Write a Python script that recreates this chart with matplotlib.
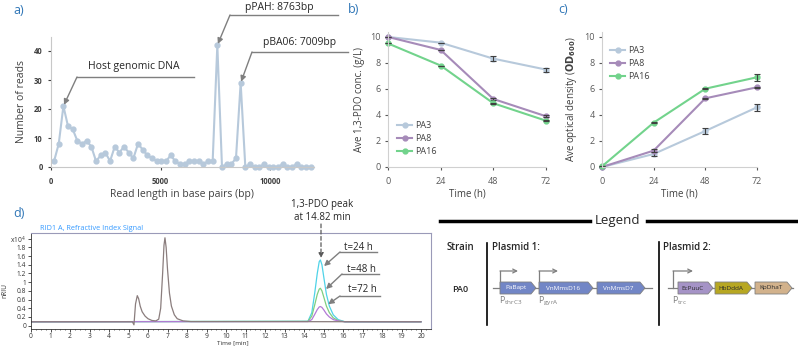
import numpy as np
import matplotlib
matplotlib.use("Agg")
import matplotlib.pyplot as plt
from matplotlib.patches import Polygon

plt.rcParams['font.family'] = ['Open Sans', 'DejaVu Sans']
plt.rcParams['mathtext.default'] = 'regular'

# a) nanopore read lengths (bins of ~213 bp)
bin_start = 140
bin_width = 213
reads = [2, 8, 21, 14, 13, 9, 8, 9, 7, 2, 4, 5, 2, 7, 5, 7, 5, 3, 8, 6,
         4, 3, 2, 2, 2, 4, 2, 1, 1, 2, 2, 2, 1, 2, 2, 42, 0, 1, 1, 3,
         29, 0, 1, 0, 0, 1, 0, 0, 0, 1, 0, 0, 1, 0, 0, 0]
read_len = bin_start + bin_width * np.arange(len(reads))

# b) 1,3-PDO concentration and c) OD600
hours = [0, 24, 48, 72]
strains = ["PA3", "PA8", "PA16"]
colors = ["#b7c9db", "#a68bb9", "#72d38c"]
pdo_pa3 = [10.0, 9.56, 8.33, 7.49]
pdo_pa8 = [10.0, 9.0, 5.23, 3.9]
pdo_pa16 = [9.5, 7.8, 4.9, 3.56]
pdo_err_pa3 = [0, 0, 0.2, 0.15]
pdo_err_pa8 = [0, 0, 0.08, 0.08]
pdo_err_pa16 = [0, 0, 0.05, 0.05]
od_pa3 = [0.0, 1.0, 2.77, 4.59]
od_pa8 = [0.0, 1.26, 5.28, 6.13]
od_pa16 = [0.05, 3.41, 6.02, 6.9]
od_err_pa3 = [0, 0.12, 0.25, 0.25]
od_err_pa8 = [0, 0.1, 0.05, 0.05]
od_err_pa16 = [0, 0.05, 0.05, 0.25]

# d) HPLC refractive index signal (x10^4 nRIU)
rt_main = [0, 5.2, 5.28, 5.36, 5.45, 5.52, 5.6, 5.7, 5.85, 6.0, 6.2, 6.4, 6.55, 6.65,
           6.75, 6.82, 6.87, 6.93, 7.0, 7.1, 7.2, 7.35, 7.5, 7.8, 8.2, 20]
sig_main = [0.09, 0.09, 0.02, 0.5, 0.69, 0.62, 0.45, 0.32, 0.22, 0.16, 0.12, 0.11, 0.15, 0.4,
            1.2, 1.85, 2.02, 1.8, 1.3, 0.75, 0.45, 0.25, 0.16, 0.11, 0.095, 0.09]
rt_pdo = [0, 14.2, 14.4, 14.55, 14.68, 14.78, 14.84, 14.92, 15.02, 15.15, 15.3, 15.5, 15.75, 16.1, 20]
sig_24h = [0.09, 0.1, 0.3, 0.75, 1.2, 1.47, 1.51, 1.4, 1.1, 0.72, 0.45, 0.25, 0.14, 0.09, 0.09]
sig_48h = [0.09, 0.1, 0.22, 0.48, 0.72, 0.84, 0.86, 0.8, 0.65, 0.45, 0.3, 0.18, 0.12, 0.09, 0.09]
sig_72h = [0.09, 0.095, 0.14, 0.26, 0.37, 0.43, 0.44, 0.42, 0.36, 0.27, 0.2, 0.14, 0.11, 0.09, 0.09]
trace_labels = ["t=24 h", "t=48 h", "t=72 h"]
trace_colors = ["#4fd3e8", "#7fcf7f", "#b27ad6"]

# legend: genetic constructs
plasmid1_genes = ["PaBapt", "VnMmsD16", "VnMmsD7"]
plasmid1_colors = ["#7286c6", "#7286c6", "#7286c6"]
plasmid2_genes = ["EcPuuC", "HbDddA", "KpDhaT"]
plasmid2_colors = ["#a593c6", "#b7a722", "#d2b28c"]

W, H = 798, 347
fig = plt.figure(figsize=(W / 100, H / 100), dpi=100)


def rect(x0, y0, x1, y1):
    return [x0 / W, 1 - y1 / H, (x1 - x0) / W, (y1 - y0) / H]


ov = fig.add_axes([0, 0, 1, 1], zorder=10)
ov.set_xlim(0, W)
ov.set_ylim(H, 0)
ov.axis("off")
ov.patch.set_alpha(0)

blue = "#2e75b6"
txt = "#262626"
grey = "#7f7f7f"
for lab, x, y in [("a)", 13, 10), ("b)", 348, 9), ("c)", 558, 9), ("d)", 13, 213)]:
    ov.text(x, y, lab, color=blue, fontsize=9, va="center", ha="left")

# ---- a)
ax_a = fig.add_axes(rect(51, 36.5, 313.8, 167))
ax_a.plot(read_len, reads, color="#b7c9db", lw=1.5, marker="o", ms=3.5, clip_on=False)
ax_a.set_xlim(0, 12000)
ax_a.set_ylim(0, 45)
ax_a.set_xticks([0, 5000, 10000])
ax_a.set_yticks([0, 10, 20, 30, 40])
for s in ["top", "right"]:
    ax_a.spines[s].set_visible(False)
for s in ["left", "bottom"]:
    ax_a.spines[s].set_color("#c8c8c8")
ax_a.tick_params(labelsize=5.5, colors="#404040", length=2, pad=4)
for t in ax_a.get_xticklabels() + ax_a.get_yticklabels():
    t.set_fontweight("bold")
ax_a.tick_params(axis="x", pad=5)
ax_a.set_ylabel("Number of reads", fontsize=7.5, color="#404040", labelpad=5)
ax_a.set_xlabel("Read length in base pairs (bp)", fontsize=7.5, color="#404040", labelpad=2)

arrow_kw = dict(arrowstyle="-|>", color=grey, lw=1, mutation_scale=8, shrinkA=0, shrinkB=1)
notes_a = [("Host genomic DNA", 134, 66, 77, 194, 77, 2),
           ("pPAH: 8763bp", 279, 7, 230, 338, 15, 35),
           ("pBA06: 7009bp", 300, 42, 252, 348, 52, 40)]
for label, tx, ty, lx0, lx1, ly, idx in notes_a:
    ov.text(tx, ty, label, fontsize=7.5, color=txt, ha="center", va="center", fontweight="medium")
    ov.plot([lx0, lx1], [ly, ly], color=grey, lw=1)
    ov.annotate("", xy=(read_len[idx], reads[idx]), xycoords=ax_a.transData,
                xytext=(lx0, ly), textcoords=ov.transData, arrowprops=arrow_kw)


# ---- b) and c)
def excel_axes(ax, ylabel, series, errs, leg_anchor):
    for vals, err, c, name in zip(series, errs, colors, strains):
        ax.plot(hours, vals, color=c, lw=1.5, marker="o", ms=3.5, label=name, clip_on=False)
        ax.errorbar(hours, vals, yerr=err, fmt="none", ecolor="#404040", elinewidth=0.8,
                    capsize=2, capthick=0.8, clip_on=False)
    ax.set_xlim(0, 72)
    ax.set_ylim(0, 10.38)
    ax.set_xticks(hours)
    ax.set_yticks([0, 2, 4, 6, 8, 10])
    for s in ["top", "right"]:
        ax.spines[s].set_visible(False)
    for s in ["left", "bottom"]:
        ax.spines[s].set_color("#d0d0d0")
    ax.tick_params(labelsize=6.5, colors="#595959", length=2, pad=3)
    ax.tick_params(axis="x", pad=5)
    ax.set_xlabel("Time (h)", fontsize=7, color="#404040", labelpad=2)
    ax.set_ylabel(ylabel, fontsize=7, color="#404040", labelpad=4)
    leg = ax.legend(loc="upper left", bbox_to_anchor=leg_anchor, bbox_transform=ov.transData,
                    frameon=False, fontsize=6.5, handlelength=1.7, handletextpad=0.3,
                    labelspacing=0.45, borderaxespad=0, borderpad=0)
    for t in leg.get_texts():
        t.set_color("#404040")


ax_b = fig.add_axes(rect(388, 32, 546, 167))
excel_axes(ax_b, "Ave 1,3-PDO conc. (g/L)", [pdo_pa3, pdo_pa8, pdo_pa16],
           [pdo_err_pa3, pdo_err_pa8, pdo_err_pa16], (397, 121))
ax_c = fig.add_axes(rect(602, 32, 757, 167))
excel_axes(ax_c, "Ave optical density ($\\mathbf{OD_{600}}$)", [od_pa3, od_pa8, od_pa16],
           [od_err_pa3, od_err_pa8, od_err_pa16], (610, 46))

# ---- d)
ax_d = fig.add_axes(rect(31, 233, 430.75, 329))
for sig, c in zip([sig_24h, sig_48h, sig_72h], trace_colors):
    ax_d.plot(rt_pdo, sig, color=c, lw=0.9)
ax_d.plot(rt_main, sig_main, color="#8a7d7d", lw=0.9)
ax_d.set_xlim(0, 20.5)
ax_d.set_ylim(-0.076, 2.13)
ax_d.set_xticks(range(0, 21))
ax_d.set_xticks(np.arange(0, 20.5, 0.25), minor=True)
ax_d.set_yticks(np.arange(0, 2.01, 0.2))
ax_d.set_yticklabels(["0", "0.2", "0.4", "0.6", "0.8", "1", "1.2", "1.4", "1.6", "1.8", "x10$^{4}$"])
ax_d.tick_params(labelsize=4.8, colors="#333333", length=2, width=0.6, pad=1.5)
ax_d.tick_params(axis="x", pad=0.8)
ax_d.tick_params(which="minor", length=1, width=0.4)
for s in ["top", "right"]:
    ax_d.spines[s].set_color("#9a9ab8")
for s in ["left", "bottom"]:
    ax_d.spines[s].set_color("#333333")
    ax_d.spines[s].set_linewidth(0.6)
ov.text(217, 342.5, "Time [min]", fontsize=4.6, color="#333333", va="center", ha="left")
ov.text(5, 290, "nRIU", fontsize=4.8, color="#333333", rotation=90, va="center", ha="center")
ov.text(40, 228, "RID1 A, Refractive Index Signal", fontsize=5.2, color="#3399ff", va="center")

ov.text(322, 211, "1,3-PDO peak\nat 14.82 min", fontsize=7, color=txt, ha="center", va="center",
        linespacing=1.2)
ov.annotate("", xy=(321, 258), xytext=(321, 224),
            arrowprops=dict(arrowstyle="-|>", color="#595959", lw=0.9, ls=(0, (3, 2)),
                            mutation_scale=7, shrinkA=0, shrinkB=0))
notes_d = [(358, 247, 340, 377, 252, 323, 267),
           (361, 269, 342, 379, 274, 325, 290),
           (362, 289, 340, 380, 296, 327, 305)]
for label, (tx, ty, lx0, lx1, ly, ax_, ay_) in zip(trace_labels, notes_d):
    ov.text(tx, ty, label, fontsize=7, color=txt, ha="center", va="center")
    ov.plot([lx0, lx1], [ly, ly], color=grey, lw=1)
    ov.annotate("", xy=(ax_, ay_), xytext=(lx0, ly), arrowprops=arrow_kw)

# ---- legend panel
ov.text(617, 220, "Legend", fontsize=9.5, color=txt, ha="center", va="center", fontweight="medium")
ov.plot([440, 590], [221, 221], color="black", lw=2.5)
ov.plot([647, 797], [221, 221], color="black", lw=2.5)
ov.text(460, 247, "Strain", fontsize=7, color=txt, ha="center", va="center", fontweight="semibold")
ov.text(460, 290, "PA0", fontsize=6.5, color=txt, ha="center", va="center", fontweight="semibold")
ov.plot([487, 487], [243, 325], color="black", lw=1.2)
ov.text(492, 247, "Plasmid 1:", fontsize=7, color=txt, ha="left", va="center", fontweight="semibold")
ov.plot([659, 659], [242, 325], color="black", lw=1.2)
ov.text(663, 247, "Plasmid 2:", fontsize=7, color=txt, ha="left", va="center", fontweight="semibold")

yb = 288


def gene(x0, x1, name, fc, tc):
    tip = 5
    pts = [(x0, yb - 6), (x1 - tip, yb - 6), (x1, yb), (x1 - tip, yb + 6), (x0, yb + 6)]
    ov.add_patch(Polygon(pts, closed=True, fc=fc, ec="#808080", lw=0.6, zorder=3))
    ov.text((x0 + x1 - tip) / 2, yb, name, fontsize=4.6, color=tc, ha="center", va="center", zorder=4)


def promoter(x, x_end, sub):
    ov.plot([x, x], [yb, 271], color=grey, lw=0.9)
    ov.annotate("", xy=(x_end, 271), xytext=(x, 271),
                arrowprops=dict(arrowstyle="->", color=grey, lw=0.9, mutation_scale=7,
                                shrinkA=0, shrinkB=0))
    ov.text(x - 1, 301, "P$_{%s}$" % sub, fontsize=6.5, color=grey, ha="left", va="center")


ov.plot([493, 652], [yb, yb], color=grey, lw=0.9)
spans1 = [(500, 536), (539, 593), (597, 645)]
for (x0, x1), name, fc in zip(spans1, plasmid1_genes, plasmid1_colors):
    gene(x0, x1, name, fc, "white")
promoter(500, 518, "thrC3")
promoter(539, 558, "gyrA")

ov.plot([668, 793], [yb, yb], color=grey, lw=0.9)
spans2 = [(678, 713), (715, 752), (755, 792)]
for (x0, x1), name, fc in zip(spans2, plasmid2_genes, plasmid2_colors):
    gene(x0, x1, name, fc, "#2a2a2a")
promoter(673, 693, "trc")

fig.savefig("out.png", dpi=100)
